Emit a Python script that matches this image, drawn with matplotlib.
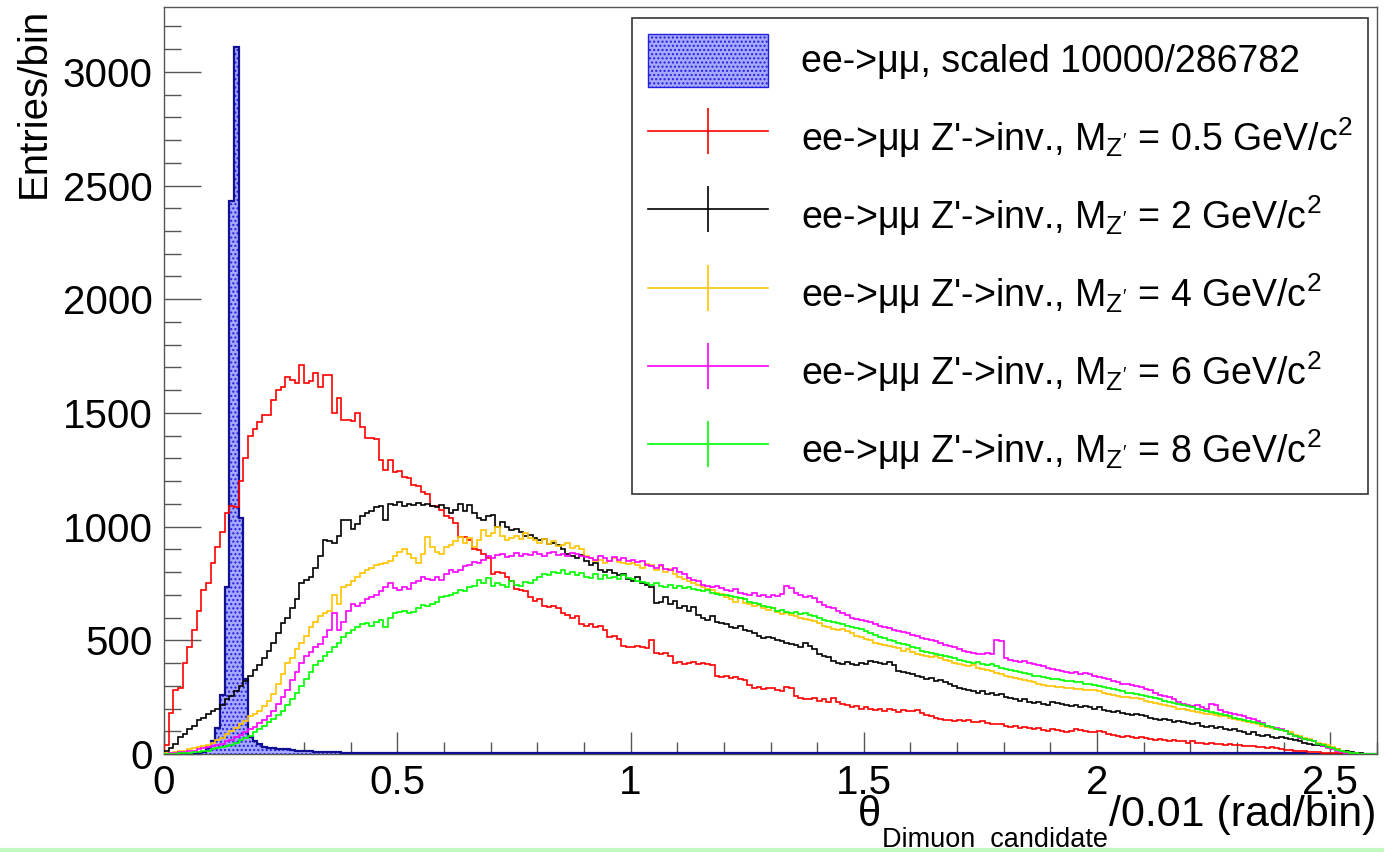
import numpy as np
import matplotlib
matplotlib.use("Agg")
from matplotlib import pyplot as plt
from matplotlib.lines import Line2D
from matplotlib.patches import Patch
from matplotlib.ticker import MultipleLocator, FuncFormatter

plt.rcParams['font.family'] = ['Liberation Sans', 'DejaVu Sans']
plt.rcParams['mathtext.fontset'] = 'custom'
plt.rcParams['mathtext.rm'] = 'Liberation Sans'
plt.rcParams['mathtext.it'] = 'Liberation Sans:italic'
plt.rcParams['mathtext.default'] = 'regular'
plt.rcParams['hatch.linewidth'] = 1.0

# theta binning: 260 bins of 0.01 rad
bin_width = 0.01
n_bins = 260

# ee->mumu background, scaled 10000/286782
bkg = [0, 0, 0, 0, 1, 1, 2, 3, 10, 25,
       55, 115, 260, 736, 2430, 3110, 1040, 330, 75, 55,
       45, 32, 28, 25, 22, 20, 20, 16, 14, 12,
       12, 12, 10, 10, 9, 8, 8, 7, 6, 6,
       5, 5, 5, 4, 4, 4, 4, 4, 4, 4,
       3, 3, 3, 3, 3, 3, 3, 3, 3, 3,
       3, 3, 3, 3, 3, 3, 3, 3, 3, 3,
       3, 3, 3, 3, 3, 3, 3, 3, 3, 3,
       3, 3, 3, 3, 3, 3, 3, 3, 3, 3,
       3, 3, 3, 3, 3, 3, 3, 3, 3, 3,
       3, 3, 3, 3, 3, 3, 3, 3, 3, 3,
       3, 3, 3, 3, 3, 3, 3, 3, 3, 3,
       3, 3, 3, 3, 3, 3, 3, 3, 3, 3,
       3, 3, 3, 3, 3, 3, 3, 3, 3, 3,
       3, 3, 3, 3, 3, 3, 3, 3, 3, 3,
       3, 3, 3, 3, 3, 3, 3, 3, 3, 3,
       3, 3, 3, 3, 3, 3, 3, 3, 3, 3,
       3, 3, 3, 3, 3, 3, 3, 3, 3, 3,
       3, 3, 3, 3, 3, 3, 3, 3, 3, 3,
       3, 3, 3, 3, 3, 3, 3, 3, 3, 3,
       3, 3, 3, 3, 3, 3, 3, 3, 3, 3,
       3, 3, 3, 3, 3, 3, 3, 3, 3, 3,
       3, 3, 3, 3, 3, 3, 3, 3, 3, 3,
       3, 3, 3, 3, 3, 3, 3, 3, 3, 3,
       3, 3, 3, 3, 3, 1, 0, 0, 0, 0,
       0, 0, 0, 0, 0, 0, 0, 0, 0, 0]

# Z' -> inv, M = 0.5 GeV
m05 = [40, 180, 280, 290, 400, 470, 545, 630, 720, 750,
       840, 910, 975, 1060, 1090, 1085, 1200, 1300, 1400, 1430,
       1460, 1490, 1490, 1555, 1600, 1615, 1660, 1645, 1630, 1710,
       1630, 1640, 1675, 1615, 1665, 1665, 1500, 1565, 1470, 1470,
       1465, 1500, 1440, 1390, 1390, 1385, 1295, 1250, 1295, 1240,
       1245, 1220, 1215, 1185, 1180, 1150, 1145, 1090, 1090, 1075,
       1045, 1040, 1015, 955, 955, 940, 900, 895, 880, 860,
       790, 800, 795, 780, 760, 725, 720, 715, 690, 675,
       680, 650, 645, 650, 640, 620, 610, 600, 605, 570,
       565, 570, 560, 565, 545, 515, 520, 505, 475, 470,
       470, 475, 470, 465, 500, 445, 440, 445, 430, 400,
       405, 395, 400, 405, 395, 400, 395, 390, 345, 340,
       345, 335, 340, 330, 325, 305, 290, 295, 285, 290,
       290, 280, 275, 295, 290, 255, 245, 240, 240, 245,
       235, 240, 230, 245, 230, 220, 215, 205, 210, 200,
       205, 200, 195, 200, 190, 200, 195, 185, 195, 190,
       190, 195, 180, 170, 165, 160, 155, 150, 150, 145,
       150, 145, 150, 140, 140, 145, 135, 130, 130, 130,
       125, 120, 125, 115, 120, 115, 110, 115, 105, 100,
       110, 105, 100, 95, 100, 110, 105, 100, 95, 95,
       100, 95, 90, 85, 80, 75, 80, 75, 70, 75,
       70, 65, 60, 65, 60, 55, 60, 55, 55, 50,
       55, 50, 50, 45, 50, 45, 45, 40, 45, 40,
       40, 35, 34, 35, 32, 30, 28, 30, 26, 22,
       18, 16, 15, 14, 12, 10, 8, 7, 6, 5,
       5, 4, 3, 3, 2, 1, 1, 0, 0, 0]

# Z' -> inv, M = 2 GeV
m2 = [15, 25, 45, 75, 90, 110, 125, 150, 160, 175,
      190, 200, 215, 240, 255, 275, 300, 320, 345, 370,
      390, 420, 455, 490, 530, 575, 600, 640, 680, 750,
      765, 780, 820, 870, 940, 935, 930, 960, 1030, 1030,
      990, 1010, 1045, 1060, 1070, 1085, 1090, 1030, 1100, 1095,
      1110, 1090, 1100, 1095, 1105, 1095, 1100, 1090, 1085, 1095,
      1080, 1060, 1075, 1100, 1070, 1095, 1060, 1040, 1030, 1045,
      1050, 1000, 1020, 1000, 985, 990, 975, 960, 965, 950,
      940, 945, 925, 930, 920, 900, 880, 870, 860, 875,
      850, 830, 840, 810, 800, 810, 795, 785, 790, 770,
      760, 780, 750, 745, 735, 665, 670, 690, 660, 675,
      640, 650, 630, 645, 610, 600, 590, 605, 580, 575,
      570, 560, 555, 565, 545, 540, 530, 520, 510, 515,
      510, 500, 495, 490, 485, 480, 470, 490, 475, 460,
      440, 430, 425, 410, 400, 395, 405, 395, 390, 400,
      395, 410, 405, 400, 395, 405, 390, 365, 360, 355,
      350, 345, 340, 330, 335, 320, 325, 315, 310, 300,
      290, 285, 280, 275, 270, 275, 265, 270, 260, 265,
      250, 245, 240, 235, 240, 230, 225, 230, 220, 215,
      230, 225, 220, 215, 210, 215, 205, 210, 205, 200,
      205, 195, 190, 185, 190, 180, 175, 170, 175, 170,
      165, 160, 155, 150, 155, 150, 140, 145, 140, 135,
      130, 135, 125, 120, 125, 115, 120, 110, 105, 110,
      100, 95, 90, 95, 85, 80, 85, 75, 70, 75,
      70, 65, 60, 55, 50, 45, 40, 38, 35, 30,
      25, 20, 15, 12, 8, 5, 3, 2, 1, 0]

# Z' -> inv, M = 4 GeV
m4 = [3, 5, 8, 12, 15, 20, 25, 30, 35, 40,
      50, 60, 70, 90, 100, 115, 130, 145, 165, 175,
      190, 210, 235, 265, 310, 350, 400, 420, 460, 490,
      520, 560, 580, 605, 620, 630, 700, 660, 735, 745,
      760, 780, 795, 810, 820, 830, 835, 840, 850, 870,
      890, 900, 880, 860, 840, 880, 955, 910, 890, 880,
      910, 920, 935, 955, 930, 950, 910, 940, 985, 960,
      970, 1000, 960, 940, 950, 960, 945, 970, 950, 940,
      930, 945, 925, 935, 915, 920, 930, 905, 915, 900,
      870, 860, 850, 855, 840, 850, 860, 845, 840, 835,
      840, 830, 820, 835, 830, 810, 825, 800, 815, 790,
      780, 770, 760, 750, 745, 735, 725, 720, 710, 705,
      690, 680, 670, 685, 665, 660, 650, 655, 640, 635,
      640, 625, 615, 620, 610, 605, 600, 595, 590, 585,
      575, 565, 560, 550, 545, 550, 540, 530, 520, 515,
      505, 500, 490, 485, 480, 475, 470, 465, 455, 460,
      450, 440, 435, 430, 425, 430, 420, 415, 410, 400,
      395, 390, 385, 390, 380, 375, 370, 365, 355, 350,
      345, 340, 335, 330, 325, 320, 315, 310, 305, 300,
      300, 295, 295, 290, 290, 285, 285, 280, 280, 280,
      275, 270, 265, 260, 255, 250, 250, 245, 245, 240,
      235, 230, 225, 220, 215, 210, 205, 200, 200, 195,
      190, 185, 180, 175, 175, 170, 165, 165, 160, 155,
      150, 145, 140, 135, 130, 125, 120, 115, 110, 105,
      100, 95, 85, 80, 70, 65, 55, 50, 45, 40,
      30, 22, 15, 10, 6, 4, 2, 1, 0, 0]

# Z' -> inv, M = 6 GeV
m6 = [2, 4, 5, 8, 10, 12, 15, 20, 25, 30,
      35, 40, 45, 55, 60, 75, 85, 95, 110, 120,
      135, 150, 165, 190, 220, 250, 280, 325, 360, 400,
      430, 450, 470, 485, 515, 545, 620, 545, 580, 630,
      660, 650, 665, 680, 690, 700, 715, 735, 750, 730,
      720, 735, 725, 750, 760, 780, 770, 765, 780, 765,
      790, 810, 800, 810, 825, 830, 845, 840, 855, 870,
      860, 875, 880, 865, 870, 885, 870, 880, 875, 890,
      880, 870, 885, 890, 875, 880, 870, 885, 880, 870,
      865, 860, 855, 870, 860, 850, 865, 855, 860, 850,
      855, 845, 850, 830, 825, 820, 830, 815, 810, 820,
      800, 790, 775, 765, 760, 745, 740, 735, 740, 730,
      720, 715, 725, 710, 705, 700, 710, 695, 700, 690,
      700, 695, 705, 740, 730, 710, 700, 690, 695, 685,
      670, 655, 645, 640, 630, 620, 610, 600, 595, 590,
      585, 580, 570, 565, 560, 555, 545, 540, 535, 530,
      525, 520, 510, 505, 500, 495, 490, 480, 475, 470,
      460, 455, 450, 445, 440, 440, 445, 440, 500, 495,
      420, 415, 410, 405, 410, 400, 395, 390, 385, 380,
      375, 370, 365, 360, 355, 360, 350, 355, 350, 345,
      340, 335, 330, 320, 315, 310, 310, 305, 300, 295,
      285, 280, 270, 260, 255, 250, 240, 230, 220, 215,
      210, 215, 205, 200, 220, 215, 195, 185, 180, 175,
      170, 165, 160, 155, 145, 135, 125, 120, 115, 110,
      100, 90, 80, 70, 65, 60, 55, 45, 35, 25,
      20, 15, 10, 6, 4, 2, 1, 0, 0, 0]

# Z' -> inv, M = 8 GeV
m8 = [0, 1, 2, 3, 4, 5, 7, 9, 12, 15,
      20, 25, 30, 35, 40, 50, 60, 70, 80, 95,
      110, 125, 140, 155, 170, 190, 215, 240, 270, 300,
      330, 360, 390, 410, 430, 450, 470, 490, 515, 530,
      545, 560, 570, 575, 565, 580, 590, 560, 600, 620,
      625, 630, 620, 625, 640, 655, 650, 660, 670, 690,
      695, 700, 710, 720, 715, 735, 740, 765, 750, 775,
      740, 750, 745, 735, 760, 745, 740, 755, 750, 765,
      780, 790, 785, 800, 795, 810, 790, 800, 785, 795,
      780, 775, 790, 770, 785, 775, 780, 770, 785, 775,
      770, 760, 755, 750, 745, 750, 740, 735, 745, 730,
      740, 730, 735, 725, 720, 715, 720, 710, 705, 700,
      700, 695, 690, 685, 680, 670, 665, 660, 650, 645,
      640, 630, 635, 625, 620, 625, 615, 620, 610, 605,
      600, 590, 585, 580, 575, 570, 565, 560, 555, 550,
      540, 530, 525, 515, 510, 500, 495, 490, 485, 480,
      470, 465, 455, 450, 445, 440, 435, 430, 425, 420,
      415, 410, 405, 400, 405, 395, 390, 395, 385, 380,
      375, 370, 365, 360, 355, 350, 345, 345, 340, 335,
      330, 330, 325, 320, 320, 315, 315, 310, 310, 305,
      300, 295, 290, 285, 280, 275, 270, 270, 265, 260,
      255, 250, 245, 240, 235, 230, 225, 220, 215, 210,
      205, 200, 195, 190, 185, 180, 175, 170, 165, 160,
      155, 150, 145, 140, 135, 130, 125, 120, 110, 105,
      100, 90, 80, 75, 65, 60, 55, 45, 40, 30,
      25, 18, 12, 8, 5, 3, 2, 1, 0, 0]

labels = ["ee->\u03bc\u03bc, scaled 10000/286782",
          "ee->\u03bc\u03bc Z'->inv., M$_{Z'}$ = 0.5 GeV/c$^{2}$",
          "ee->\u03bc\u03bc Z'->inv., M$_{Z'}$ = 2 GeV/c$^{2}$",
          "ee->\u03bc\u03bc Z'->inv., M$_{Z'}$ = 4 GeV/c$^{2}$",
          "ee->\u03bc\u03bc Z'->inv., M$_{Z'}$ = 6 GeV/c$^{2}$",
          "ee->\u03bc\u03bc Z'->inv., M$_{Z'}$ = 8 GeV/c$^{2}$"]
colors = ["#ff0000", "#000000", "#ffc400", "#ff00ff", "#00ff00"]

for h in [bkg, m05, m2, m4, m6, m8]:
    assert len(h) == n_bins

edges = np.arange(n_bins + 1) * bin_width

W, H = 1384, 852
fig = plt.figure(figsize=(W/100, H/100), dpi=100)
ax = fig.add_axes([164/W, 1 - 754/H, (1377-164)/W, (754-7)/H])

# background: hatched fill
ax.stairs(bkg, edges, fill=True, facecolor="#a8a8ff", edgecolor="#2020e0",
          hatch="....", linewidth=0, zorder=2)
ax.stairs(bkg, edges, color="#101090", linewidth=1.6, zorder=3)

for h, c in zip([m05, m2, m4, m6, m8], colors):
    ax.stairs(h, edges, color=c, linewidth=1.2, baseline=0, zorder=3)

ax.set_xlim(0, 2.6)
ax.set_ylim(0, 3285)

ax.xaxis.set_major_locator(MultipleLocator(0.5))
ax.xaxis.set_minor_locator(MultipleLocator(0.1))
ax.yaxis.set_major_locator(MultipleLocator(500))
ax.yaxis.set_minor_locator(MultipleLocator(100))
ax.xaxis.set_major_formatter(FuncFormatter(lambda v, p: "%g" % v))
ax.yaxis.set_major_formatter(FuncFormatter(lambda v, p: "%g" % v))

ax.tick_params(which="both", direction="in", top=False, right=False,
               color="#555555", width=1, labelsize=29)
ax.tick_params(axis="x", which="major", length=16, pad=7)
ax.tick_params(axis="x", which="minor", length=8.6)
ax.tick_params(axis="y", which="major", length=26.6, pad=8)
ax.tick_params(axis="y", which="minor", length=12)
for s in ax.spines.values():
    s.set_color("#555555")
    s.set_linewidth(1)

# x title in three pieces so the subscript can be set larger (ROOT style)
rend = fig.canvas.get_renderer()
t_main = fig.text(1376/W, 1 - 826/H, "/0.01 (rad/bin)", ha="right",
                  va="baseline", fontsize=31)
x_left = t_main.get_window_extent(rend).x0
t_sub = fig.text((x_left - 1)/W, 1 - 847/H, "Dimuon  candidate", ha="right",
                 va="baseline", fontsize=19.5)
x_left = t_sub.get_window_extent(rend).x0
fig.text((x_left - 1)/W, 1 - 826/H, "\u03b8", ha="right", va="baseline",
         fontsize=30)

fig.text(34/W, 1 - 8/H, "Entries/bin", rotation=90,
         ha="center", va="top", fontsize=29)

handles = [Patch(facecolor="#a8a8ff", edgecolor="#2020e0", hatch="....",
                 linewidth=1)]
for c in colors:
    handles.append(Line2D([], [], color=c, linewidth=1.2, marker="|",
                          markersize=33, markeredgewidth=1.2))
leg = ax.legend(handles, labels, loc="upper right",
                bbox_to_anchor=(1368/W, 1 - 18/H),
                bbox_transform=fig.transFigure, borderaxespad=0,
                fontsize=27, frameon=True, fancybox=False,
                edgecolor="#333333", framealpha=1, numpoints=1,
                handlelength=3.2, handleheight=1.8, handletextpad=0.88,
                labelspacing=0.67, borderpad=0.42)
leg.get_frame().set_linewidth(1.2)

# light green strip along the bottom edge
fig.add_artist(Line2D([0, 1], [2/H, 2/H], transform=fig.transFigure,
                      color="#c0f8c0", linewidth=3))

fig.savefig("out.png", dpi=100)
